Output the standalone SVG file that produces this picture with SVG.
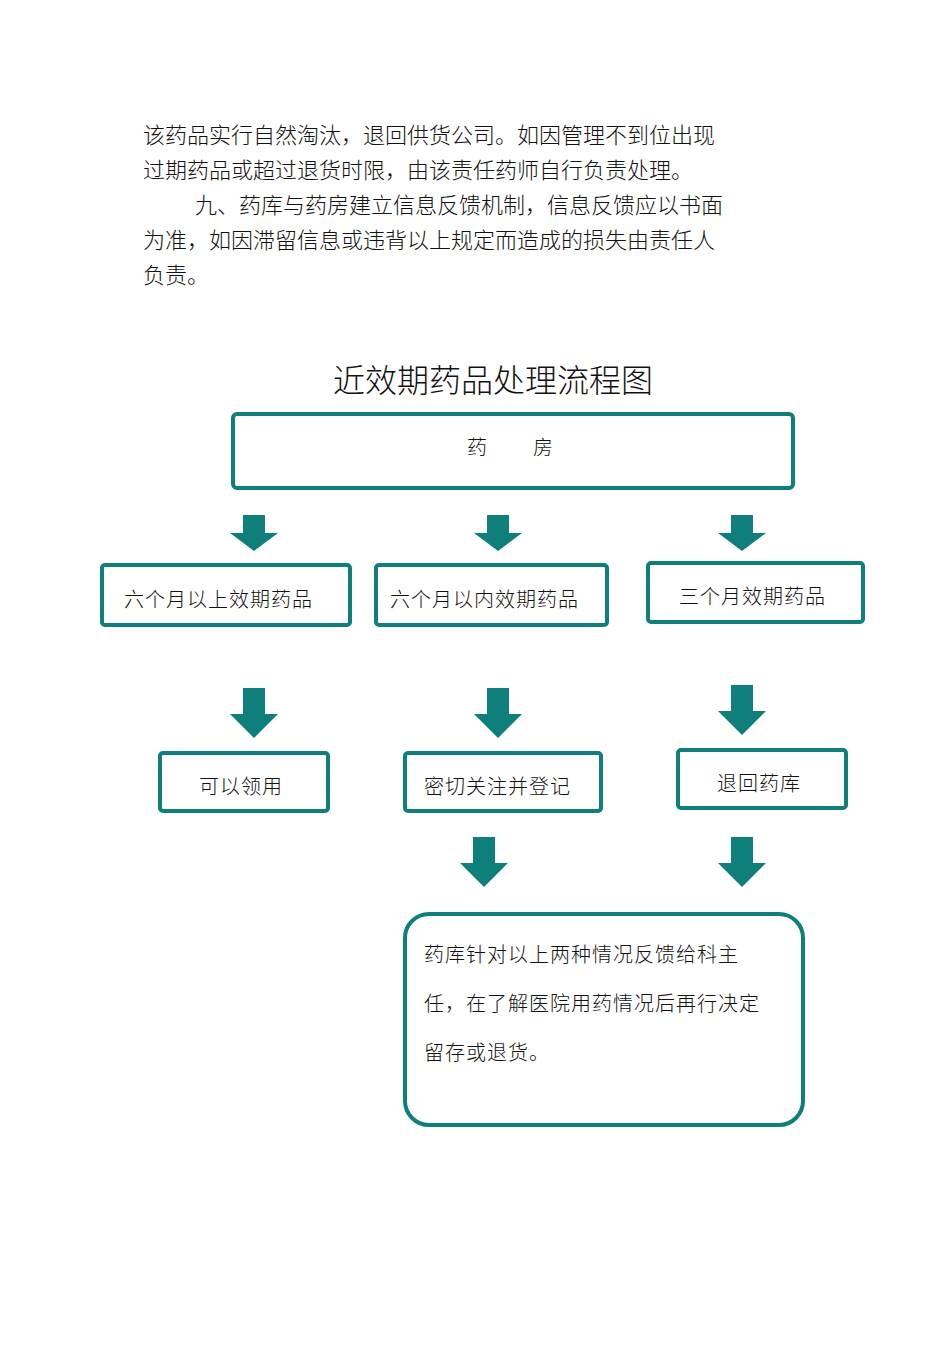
<svg xmlns="http://www.w3.org/2000/svg" width="950" height="1345" viewBox="0 0 950 1345">
<style>
text{font-family:"Noto Sans CJK SC","Noto Sans",sans-serif;fill:#111;font-weight:300}
.p{font-size:22px}
.b{font-size:20px;letter-spacing:1px}
.box{fill:#fff;stroke:#0e7f7a;stroke-width:4}
.ar{fill:#0e7f7a}
</style>
<defs>
<path id="a1" d="M-11,0 H11 V18 H24 L0,36 L-24,18 H-11 Z"/>
<path id="a2" d="M-11,0 H11 V26 H24 L0,50 L-24,26 H-11 Z"/>
</defs>
<rect width="950" height="1345" fill="#fff"/>
<g id="paragraph" class="p">
<text x="143" y="143">该药品实行自然淘汰，退回供货公司。如因管理不到位出现</text>
<text x="143" y="178">过期药品或超过退货时限，由该责任药师自行负责处理。</text>
<text x="195" y="213">九、药库与药房建立信息反馈机制，信息反馈应以书面</text>
<text x="143" y="248">为准，如因滞留信息或违背以上规定而造成的损失由责任人</text>
<text x="143" y="283">负责。</text>
</g>
<text x="333" y="392" font-size="32" id="title">近效期药品处理流程图</text>
<g id="n-yaofang"><rect class="box" x="233" y="414" width="560" height="74" rx="4"/><text class="b" x="467" y="455">药</text><text class="b" x="533" y="455">房</text></g>
<g id="n-6plus"><rect class="box" x="102" y="565" width="248" height="60" rx="3"/><text class="b" x="124" y="607">六个月以上效期药品</text></g>
<g id="n-6in"><rect class="box" x="376" y="565" width="231" height="60" rx="3"/><text class="b" x="390" y="607">六个月以内效期药品</text></g>
<g id="n-3"><rect class="box" x="648" y="563" width="215" height="59" rx="3"/><text class="b" x="679" y="604">三个月效期药品</text></g>
<g id="n-use"><rect class="box" x="160" y="753" width="168" height="58" rx="3"/><text class="b" x="199" y="794">可以领用</text></g>
<g id="n-watch"><rect class="box" x="405" y="753" width="196" height="58" rx="3"/><text class="b" x="424" y="794">密切关注并登记</text></g>
<g id="n-return"><rect class="box" x="678" y="750" width="168" height="58" rx="3"/><text class="b" x="717" y="791">退回药库</text></g>
<g id="n-final"><rect class="box" x="405" y="914" width="398" height="211" rx="24"/>
<text class="b" x="424" y="962">药库针对以上两种情况反馈给科主</text>
<text class="b" x="424" y="1011">任，在了解医院用药情况后再行决定</text>
<text class="b" x="424" y="1060">留存或退货。</text></g>
<g id="connectors" class="ar">
<use href="#a1" x="254" y="515"/><use href="#a1" x="498" y="515"/><use href="#a1" x="742" y="515"/>
<use href="#a2" x="254" y="688"/><use href="#a2" x="498" y="688"/><use href="#a2" x="742" y="685"/>
<use href="#a2" x="484" y="837"/><use href="#a2" x="742" y="837"/>
</g>
</svg>
